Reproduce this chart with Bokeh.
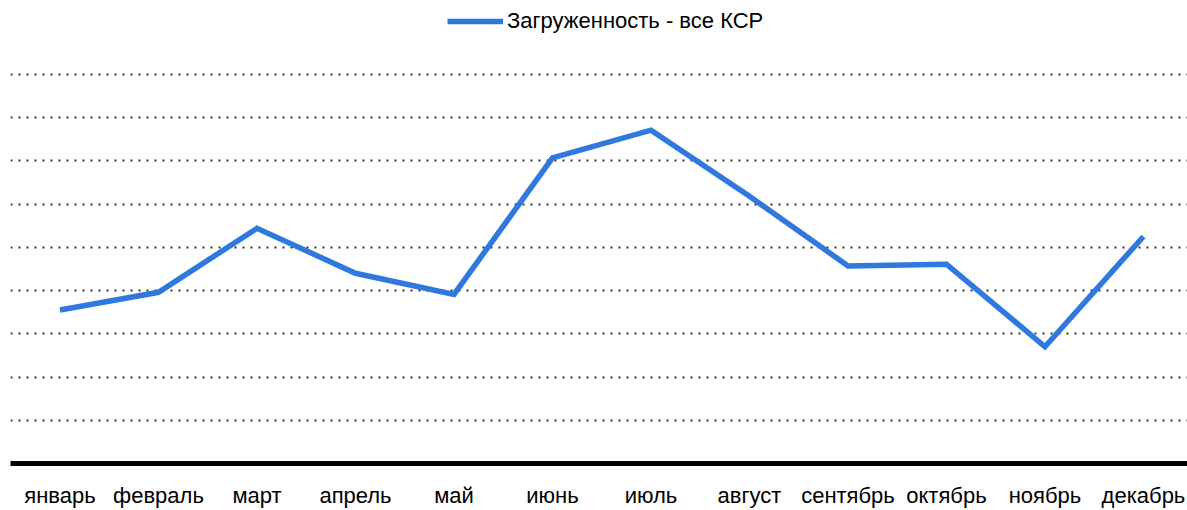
from bokeh.plotting import figure
from bokeh.models import Range1d, FixedTicker, Legend, LegendItem
from bokeh.embed import file_html
from bokeh.resources import INLINE

months = ["январь", "февраль", "март", "апрель", "май", "июнь",
          "июль", "август", "сентябрь", "октябрь", "ноябрь", "декабрь"]
load_all = [35.5, 39.6, 54.4, 44.0, 39.1, 70.7, 77.1, 61.8, 45.7, 46.1, 27.0, 52.5]
series_name = "Загруженность - все КСР"
grid_ticks = [10, 20, 30, 40, 50, 60, 70, 80, 90]

FONT = "Liberation Sans"
x = list(range(len(months)))

p = figure(width=1187, height=510, output_backend="svg", toolbar_location=None,
           x_range=Range1d(-0.5025, 11.447), y_range=Range1d(0, 107.08),
           min_border_left=10, min_border_right=0, min_border_top=0, min_border_bottom=46)
p.outline_line_color = None
p.background_fill_color = "white"
p.border_fill_color = "white"

r = p.line(x, load_all, line_color="#2E78DE", line_width=5.5, line_join="miter")

p.yaxis.visible = False
p.ygrid.ticker = FixedTicker(ticks=grid_ticks)
p.ygrid.grid_line_color = "#333333"
p.ygrid.grid_line_width = 2
p.ygrid.grid_line_dash = "2 6"
p.xgrid.visible = False

ax = p.xaxis[0]
ax.ticker = FixedTicker(ticks=x)
ax.major_label_overrides = {i: m for i, m in enumerate(months)}
ax.axis_line_color = "black"
ax.axis_line_width = 5
ax.major_tick_line_color = None
ax.minor_tick_line_color = None
ax.major_tick_out = 0
ax.major_tick_in = 0
ax.major_label_text_font = FONT
ax.major_label_text_font_size = "22px"
ax.major_label_text_color = "black"
ax.major_label_standoff = 19

legend = Legend(items=[LegendItem(label=series_name, renderers=[r])],
                location=(437, 429), orientation="horizontal",
                glyph_width=56, glyph_height=20, label_height=20,
                label_standoff=4, margin=0, padding=0,
                border_line_color=None, background_fill_alpha=0,
                label_text_font=FONT, label_text_font_size="22px",
                label_text_color="black")
p.add_layout(legend)

open("out.html", "w").write(file_html(p, INLINE))
